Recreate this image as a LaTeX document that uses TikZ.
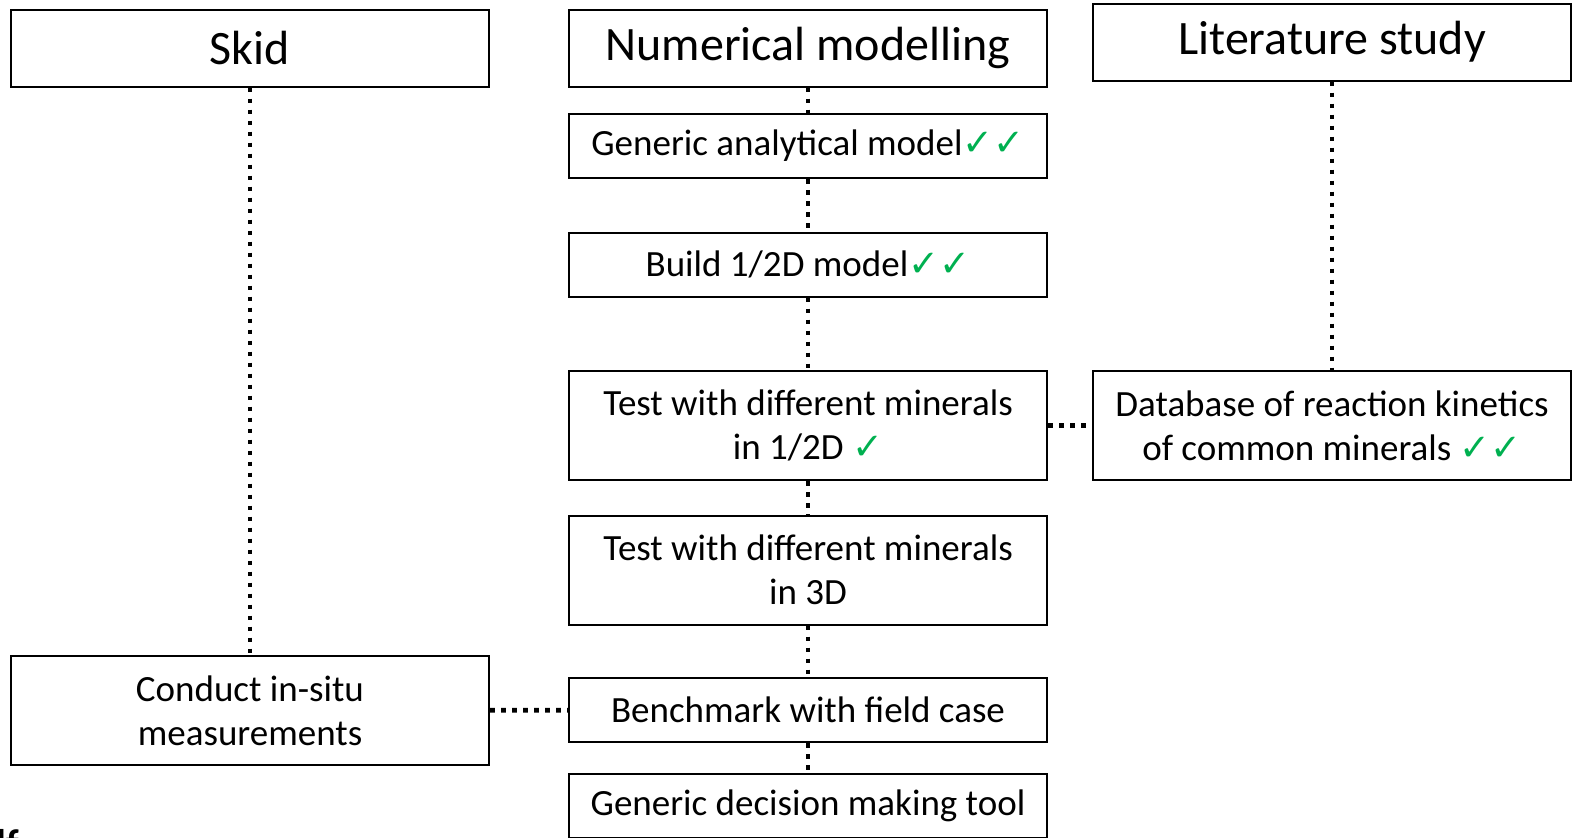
\documentclass[tikz,border=0pt]{standalone}
\usepackage{fontspec}
\setmainfont{Carlito}
\newfontfamily\symfont{DejaVu Sans}
\definecolor{okgreen}{HTML}{00B050}
\newcommand{\tick}{{\symfont\color{okgreen}✓}}

\begin{document}
\begin{tikzpicture}[x=0.5pt, y=-0.5pt,
    box/.style={draw, line width=1pt, minimum width=239pt, inner sep=0pt, align=center, font=\fontsize{18.5}{22}\selectfont},
    head/.style={box, minimum height=38.5pt, font=\fontsize{24}{28}\selectfont},
    onerow/.style={box, minimum height=32pt},
    tworow/.style={box, minimum height=54.5pt},
    link/.style={line width=2.4pt, dash pattern=on 2.4pt off 3.1pt}]
  \useasboundingbox (0,0) rectangle (1577,837);
  \clip (0,0) rectangle (1577,837);
  \node[head] (skid) at (250,48) {Skid};
  \node[head] (nummod) at (808,48) {Numerical modelling};
  \node[head] (litstudy) at (1332,42) {Literature study};
  \node[onerow] (analytic) at (808,146) {Generic analytical model\tick\tick};
  \node[onerow] (build) at (808,264.5) {Build 1/2D model\tick\tick};
  \node[tworow] (test2d) at (808,425.5) {Test with different minerals\\in 1/2D \tick};
  \node[tworow] (kinetics) at (1332,425.5) {Database of reaction kinetics\\of common minerals \tick\tick};
  \node[tworow] (test3d) at (808,570) {Test with different minerals\\in 3D};
  \node[tworow] (insitu) at (250,710.5) {Conduct in-situ\\measurements};
  \node[onerow] (bench) at (808,710) {Benchmark with field case};
  \node[onerow] (tool) at (808,806) {Generic decision making tool};
  \node[anchor=base west, inner sep=0pt, font=\fontsize{20}{24}\selectfont\bfseries] (cut) at (-4,857) {lf};
  \foreach \a/\b in {nummod/analytic, analytic/build, build/test2d, test2d/test3d,
      test3d/bench, bench/tool, skid/insitu, litstudy/kinetics, test2d/kinetics, insitu/bench}
    \draw[link] (\a) -- (\b);
\end{tikzpicture}
\end{document}
